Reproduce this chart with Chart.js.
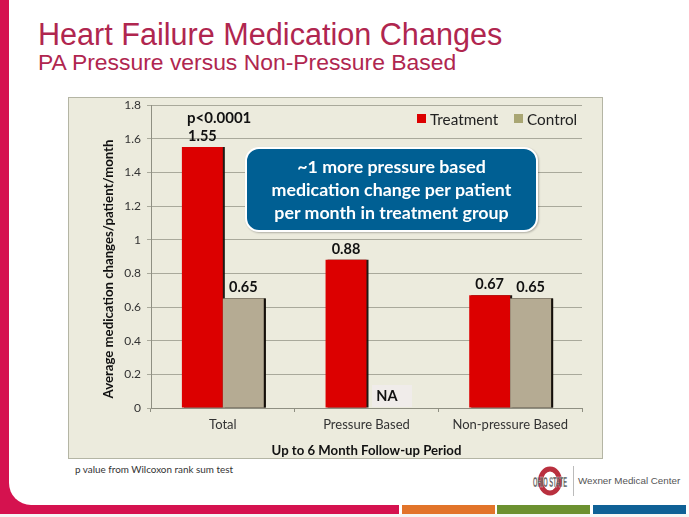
<!DOCTYPE html>
<html>
<head>
<meta charset="utf-8">
<script src="https://cdn.jsdelivr.net/npm/chart.js@4"></script>
<style>
  html, body { margin: 0; padding: 0; background: #fff; }
  #slide { position: relative; width: 689px; height: 517px; overflow: hidden; background: #fff; font-family: Lato, sans-serif; }
  #frame { position: absolute; left: 0; top: 0; width: 399px; height: 514px; background: #d5124f; }
  #frameInner { position: absolute; left: 9px; top: 0; width: 390px; height: 505px; background: #fff; border-bottom-left-radius: 22px; }
  #below { position: absolute; left: 0; top: 514px; width: 689px; height: 3px; background: #f6f6f4; }
  .strip { position: absolute; top: 505px; height: 9px; }
  .title { position: absolute; left: 38px; font-family: "Liberation Sans", Arial, sans-serif; color: #b0264f; white-space: nowrap; }
  #panel { position: absolute; left: 68px; top: 97px; width: 535px; height: 362px; box-sizing: border-box; border: 1px solid #b4b5a4; background: #ecebdd; }
  #chartBox { position: absolute; left: 68px; top: 97px; width: 535px; height: 362px; }
  #callout { position: absolute; left: 245px; top: 147px; width: 293px; height: 85px; box-sizing: border-box; border: 2px solid #fff; border-radius: 14px; background: #005f93; color: #fff; font-weight: 700; font-size: 17.8px; line-height: 23px; text-align: center; padding-top: 6px; box-shadow: 1px 1px 2px rgba(0,0,0,.25); white-space: nowrap; }
  #pval { position: absolute; left: 187px; top: 108px; font-weight: 700; font-size: 15px; color: #111; }
  .legendBox { position: absolute; top: 114px; width: 9px; height: 9px; }
  .legendText { position: absolute; top: 110px; font-size: 15.3px; color: #222; }
  #foot { position: absolute; left: 75px; top: 463px; font-size: 9.9px; color: #333; }
  #wexner { position: absolute; left: 578px; top: 475px; font-family: "Liberation Sans", Arial, sans-serif; font-size: 9.8px; color: #555; white-space: nowrap; }
  #rule { position: absolute; left: 573px; top: 466px; width: 1px; height: 30px; background: #bbb; }
  #logo { position: absolute; left: 532px; top: 465px; }
</style>
</head>
<body>
<div id="slide">
  <div id="frame"></div>
  <div id="frameInner"></div>
  <div id="below"></div>
  <div class="strip" style="left:402px;width:93px;background:#e2742a"></div>
  <div class="strip" style="left:497px;width:93px;background:#6c9130"></div>
  <div class="strip" style="left:593px;width:93px;background:#0f6196"></div>

  <div class="title" style="top:17px;font-size:30.6px">Heart Failure Medication Changes</div>
  <div class="title" style="top:49px;font-size:22.9px">PA Pressure versus Non-Pressure Based</div>

  <div id="panel"></div>
  <div id="chartBox"><canvas id="chart" width="535" height="362"></canvas></div>

  <div id="pval">p&lt;0.0001</div>
  <div id="legend"></div>
  <div id="callout">~1 more pressure based<br>medication change per patient<br>per month in treatment group</div>

  <div id="foot">p value from Wilcoxon rank sum test</div>

  <svg id="logo" width="36" height="33" viewBox="0 0 36 33">
    <ellipse cx="18" cy="16" rx="9.5" ry="12" fill="none" stroke="#b9303f" stroke-width="5"/>
    <g transform="translate(0 22) scale(1 1.5)">
      <text x="18" y="0" text-anchor="middle" font-family="Liberation Sans Narrow, Liberation Sans" font-weight="700" font-size="10" textLength="34" lengthAdjust="spacingAndGlyphs" fill="#3c3c3c" stroke="#fff" stroke-width="0.2">OHIO STATE</text>
    </g>
  </svg>
  <div id="rule"></div>
  <div id="wexner">Wexner Medical Center</div>
</div>

<script>
const categories = ['Total', 'Pressure Based', 'Non-pressure Based'];
const treatment = [1.55, 0.88, 0.67];
const control = [0.65, null, 0.65];
const seriesNames = ['Treatment', 'Control'];
const yTitle = 'Average medication changes/patient/month';

const RED = '#dc0000';
const TAN = '#b5ab93';
const LEGEND_TAN = '#a9a673';
const FONT = 'Lato, sans-serif';

// legend sits on top of the plot so it's plain html
const legendSpots = [
  { box: 417, text: 430, color: RED },
  { box: 514, text: 527, color: LEGEND_TAN }
];
document.getElementById('legend').innerHTML = seriesNames.map((name, i) => {
  const s = legendSpots[i];
  return `<div class="legendBox" style="left:${s.box}px;background:${s.color}"></div>` +
         `<div class="legendText" style="left:${s.text}px">${name}</div>`;
}).join('');

// dark edge on the right side of every bar
const barShadow = {
  id: 'barShadow',
  beforeDatasetDraw(chart) {
    const ctx = chart.ctx;
    ctx.save();
    ctx.shadowColor = 'rgba(20,15,10,0.95)';
    ctx.shadowOffsetX = 2;
    ctx.shadowOffsetY = 0;
    ctx.shadowBlur = 0;
  },
  afterDatasetDraw(chart) {
    chart.ctx.restore();
  }
};

// value labels over the bars, NA where a series has no value
const valueLabels = {
  id: 'valueLabels',
  afterDatasetsDraw(chart) {
    const ctx = chart.ctx;
    const yScale = chart.scales.y;

    // control bars go back on top so the red bars' edge doesn't cover them
    ctx.save();
    ctx.shadowColor = 'rgba(20,15,10,0.95)';
    ctx.shadowOffsetX = 2;
    chart.getDatasetMeta(1).data.forEach((bar, i) => {
      if (control[i] !== null) bar.draw(ctx);
    });
    ctx.restore();

    ctx.save();
    ctx.textAlign = 'center';
    ctx.textBaseline = 'middle';
    chart.data.datasets.forEach((ds, d) => {
      const meta = chart.getDatasetMeta(d);
      ds.data.forEach((v, i) => {
        const bar = meta.data[i];
        if (v === null) {
          const w = 40;
          const h = 23;
          ctx.fillStyle = '#f0ecea';
          ctx.fillRect(bar.x - w / 2 + 5, yScale.getPixelForValue(0) - h, w, h - 1);
          ctx.fillStyle = '#111';
          ctx.font = `700 14.5px ${FONT}`;
          ctx.fillText('NA', bar.x, yScale.getPixelForValue(0) - 12);
          return;
        }
        ctx.fillStyle = '#111';
        ctx.font = `700 14.5px ${FONT}`;
        ctx.fillText(v.toFixed(2), bar.x, bar.y - 11);
      });
    });
    ctx.restore();

    // y title runs a bit below the middle of the axis
    ctx.save();
    ctx.translate(41, 172);
    ctx.rotate(-Math.PI / 2);
    ctx.textAlign = 'center';
    ctx.textBaseline = 'middle';
    ctx.fillStyle = '#111';
    ctx.font = `700 13.2px ${FONT}`;
    ctx.fillText(yTitle, 0, 0);
    ctx.restore();
  }
};

new Chart(document.getElementById('chart').getContext('2d'), {
  type: 'bar',
  data: {
    labels: categories,
    datasets: [
      { label: seriesNames[0], data: treatment, backgroundColor: RED },
      { label: seriesNames[1], data: control, backgroundColor: TAN }
    ]
  },
  options: {
    responsive: false,
    animation: false,
    devicePixelRatio: 1,
    layout: { padding: { top: 8, right: 21, left: 0, bottom: 0 } },
    datasets: { bar: { categoryPercentage: 0.57, barPercentage: 1 } },
    plugins: {
      legend: { display: false },
      tooltip: { enabled: false }
    },
    scales: {
      x: {
        afterFit(scale) { scale.height = 51; },
        grid: { drawOnChartArea: false, drawTicks: true, tickLength: 4, color: '#8f8f82' },
        border: { color: '#8f8f82' },
        ticks: { color: '#333', font: { family: FONT, size: 13 }, padding: 5, maxRotation: 0 },
        title: {
          display: true,
          text: 'Up to 6 Month Follow-up Period',
          color: '#111',
          font: { family: FONT, size: 13.2, weight: '700' },
          padding: { top: 3, bottom: 0 }
        }
      },
      y: {
        min: 0,
        max: 1.8,
        afterFit(scale) {
          scale.width = 83;
          // the half label overhang was pushing the plot top down
          scale.paddingTop = 0;
          scale.paddingBottom = 0;
        },
        grid: { color: '#a9a99b', tickLength: 4 },
        border: { color: '#8f8f82' },
        ticks: {
          stepSize: 0.2,
          color: '#333',
          font: { family: FONT, size: 12 },
          padding: 6,
          callback: v => String(+v.toFixed(1))
        }
      }
    }
  },
  plugins: [barShadow, valueLabels]
});
</script>
</body>
</html>
